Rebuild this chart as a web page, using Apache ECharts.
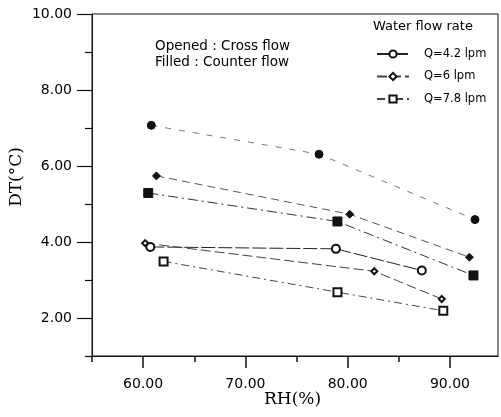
<!DOCTYPE html>
<html><head><meta charset="utf-8">
<script src="https://cdn.jsdelivr.net/npm/echarts@6/dist/echarts.min.js"></script>
<style>html,body{margin:0;padding:0;background:#fff}#c{width:501px;height:417px}</style>
</head><body><div id="c"></div>
<script>
// Cross flow (opened markers)
const rhCross42 = [60.7, 78.85, 87.25];
const dtCross42 = [3.87, 3.82, 3.25];
const rhCross6 = [60.2, 82.6, 89.2];
const dtCross6 = [3.97, 3.23, 2.50];
const rhCross78 = [62.0, 79.0, 89.35];
const dtCross78 = [3.49, 2.68, 2.19];
// Counter flow (filled markers)
const rhCounter42 = [60.8, 77.2, 92.45];
const dtCounter42 = [7.07, 6.31, 4.59];
const rhCounter6 = [61.3, 80.2, 91.9];
const dtCounter6 = [5.74, 4.73, 3.60];
const rhCounter78 = [60.5, 79.0, 92.3];
const dtCounter78 = [5.29, 4.54, 3.12];
// Axis ticks
const xMajor = [60, 70, 80, 90];
const xMinor = [55, 65, 75, 85];
const yMajor = [2, 4, 6, 8, 10];
const yMinor = [1, 3, 5, 7, 9];
const legendNames = ['Q=4.2 lpm', 'Q=6 lpm', 'Q=7.8 lpm'];

const pair = (xs, ys) => xs.map((x, i) => [x, ys[i]]);
const sans = 'DejaVu Sans';
const lbl = {fontFamily: sans, fontSize: 14, color: '#000'};

function mk(name, xs, ys, symbol, size, dash, color) {
  return {
    type: 'line', name: name, data: pair(xs, ys), xAxisIndex: 0, yAxisIndex: 0,
    symbol: symbol, symbolSize: size, showSymbol: true,
    lineStyle: {color: color, width: 1, type: dash},
    itemStyle: {color: '#111', borderColor: '#111', borderWidth: 1},
    animation: false, z: 3
  };
}

const chart = echarts.init(document.getElementById('c'), null, {renderer: 'canvas'});
chart.setOption({
  animation: false,
  backgroundColor: '#fff',
  grid: {left: 92, top: 14, right: 3, bottom: 61, show: true, borderColor: '#111', borderWidth: 1, backgroundColor: 'transparent'},
  xAxis: [
    {type: 'value', min: 55, max: 94.7, position: 'bottom',
     axisLine: {show: true, lineStyle: {color: '#111', width: 1}},
     axisTick: {show: true, length: 12, inside: false, customValues: xMajor, lineStyle: {color: '#111', width: 1.5}},
     axisLabel: {show: true, margin: 21, customValues: xMajor, formatter: v => v.toFixed(2), ...lbl},
     splitLine: {show: false}},
    {type: 'value', min: 55, max: 94.7, position: 'bottom',
     axisLine: {show: false},
     axisTick: {show: true, length: 6, customValues: xMinor, lineStyle: {color: '#111', width: 1.5}},
     axisLabel: {show: false}, splitLine: {show: false}}
  ],
  yAxis: [
    {type: 'value', min: 1, max: 10, position: 'left',
     axisLine: {show: true, lineStyle: {color: '#111', width: 1}},
     axisTick: {show: true, length: 15, customValues: yMajor, lineStyle: {color: '#111', width: 1.2}},
     axisLabel: {show: true, margin: 20, customValues: yMajor, formatter: v => v.toFixed(2), ...lbl},
     splitLine: {show: false}},
    {type: 'value', min: 1, max: 10, position: 'left',
     axisLine: {show: false},
     axisTick: {show: true, length: 7, customValues: yMinor, lineStyle: {color: '#111', width: 1.2}},
     axisLabel: {show: false}, splitLine: {show: false}}
  ],
  legend: {
    data: legendNames, orient: 'vertical', left: 371, top: 43,
    itemWidth: 32, itemHeight: 9, itemGap: 10.5,
    textStyle: {fontFamily: sans, fontSize: 11.5, color: '#000', padding: [0, 0, 0, 10]},
    selectedMode: false
  },
  graphic: [
    {type: 'text', left: 373, top: 20, style: {text: 'Water flow rate', font: '13px "DejaVu Sans"', fill: '#000'}},
    {type: 'text', left: 155, top: 39, style: {text: 'Opened : Cross flow', font: '13.5px "DejaVu Sans"', fill: '#000'}},
    {type: 'text', left: 155, top: 55, style: {text: 'Filled : Counter flow', font: '13.5px "DejaVu Sans"', fill: '#000'}},
    {type: 'text', left: 264, top: 391, style: {text: 'RH(%)', font: '17px "DejaVu Serif"', fill: '#000'}},
    {type: 'text', x: 8, y: 177, rotation: Math.PI / 2, style: {text: 'DT(°C)', font: '17px "DejaVu Serif"', fill: '#000', textAlign: 'center', textVerticalAlign: 'top'}}
  ],
  series: [
    mk('Q=4.2 lpm', rhCross42, dtCross42, 'emptyCircle', 8, [14, 3], '#222'),
    mk('Q=6 lpm', rhCross6, dtCross6, 'emptyDiamond', 6, [10, 4], '#444'),
    mk('Q=7.8 lpm', rhCross78, dtCross78, 'emptyRect', 8, [8, 4, 2, 4], '#444'),
    mk('Counter 4.2', rhCounter42, dtCounter42, 'circle', 8, [6, 8], '#777'),
    mk('Counter 6', rhCounter6, dtCounter6, 'diamond', 8, [8, 5], '#555'),
    mk('Counter 7.8', rhCounter78, dtCounter78, 'rect', 9, [10, 4, 2, 4], '#333')
  ]
});
</script>
</body></html>
